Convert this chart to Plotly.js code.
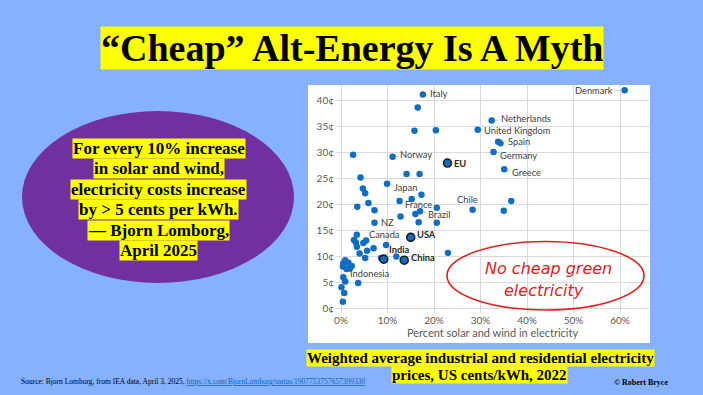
<!DOCTYPE html>
<html><head><meta charset="utf-8">
<script src="https://cdn.plot.ly/plotly-3.0.1.min.js"></script>
<style>html,body{margin:0;padding:0;background:#85B1FF;overflow:hidden;}</style>
</head><body><div id="chart" style="width:703px;height:395px;"></div>
<script>
// ---- data ----
const solarWindShare = [17.6,16.5,15.8,20.4,29.4,32.4,61.0,33.8,34.3,32.8,35.1,36.6,35.0,
  2.6,11.1,22.9,14.1,16.9,4.2,9.9,4.7,5.2,17.3,15.2,12.6,5.9,3.5,7.2,20.6,28.3,16.0,17.0,12.8,7.2,16.7,20.6,
  15.0,3.4,2.8,3.2,4.8,5.4,3.4,7.0,5.6,4.0,9.7,5.2,8.6,9.2,11.9,13.6,23.0,
  0.9,0.5,1.6,2.3,0.4,1.2,1.9,0.5,0.9,0.1,3.7,0.7,0.4];
const priceCents = [41.2,38.7,34.2,34.3,34.4,36.2,42.0,32.1,31.8,30.1,26.8,20.7,18.8,
  29.6,29.2,28.0,25.9,25.9,25.2,24.0,23.1,22.2,21.9,21.1,20.7,20.3,19.6,18.9,19.4,19.0,18.2,18.7,17.7,16.5,16.6,16.5,
  13.7,14.2,13.2,12.7,12.6,13.1,11.9,11.6,11.1,10.6,12.2,9.7,9.7,9.5,10.0,9.3,10.7,
  9.3,8.7,8.8,8.2,8.1,7.6,7.7,6.0,5.2,4.1,4.9,3.0,1.3];
const countryName = ['Italy','','','','United Kingdom','Netherlands','Denmark','Spain','','Germany','Greece','','',
  '','Norway','EU','','','','Japan','','','','','France','','','','','Chile','','Brazil','','NZ','','',
  'USA','','','','','Canada','','','','','','','','India','','China','',
  '','','','','','Indonesia','','','','','','',''];
const highlightedNames = ['EU','USA','India','China'];
const xTickValues = [0,10,20,30,40,50,60];
const yTickValues = [0,5,10,15,20,25,30,35,40];

// ---- label placement (pixel offsets from the point to the label centre) ----
const labelOffset = {
  'Italy':[16,-1],'Norway':[23,-2],'Japan':[18,4],'France':[19,4],'Brazil':[19,3],'NZ':[13,0],
  'Chile':[-5,-10],'EU':[13,0],'USA':[16,-3],'Canada':[18,-6],'India':[16,-10],'China':[19,-3],
  'Indonesia':[23,4],'Denmark':[-31,0],'Netherlands':[34,-2],'United Kingdom':[40,1],
  'Spain':[21,0],'Germany':[25,3],'Greece':[22,3]
};

// ---- pixel helpers for slide elements (paper = white chart panel 308..650 x 85..343) ----
const PL=308, PR=650, PT=85, PB=343;
const px = v => (v-PL)/(PR-PL);
const py = v => (PB-v)/(PB-PT);

const isHi = i => highlightedNames.indexOf(countryName[i]) >= 0;
const idxN = solarWindShare.map((_,i)=>i).filter(i=>!isHi(i));
const idxH = solarWindShare.map((_,i)=>i).filter(i=>isHi(i));

const dotColor = '#0F6DC4';
const traces = [
  {type:'scatter', mode:'markers', x:idxN.map(i=>solarWindShare[i]), y:idxN.map(i=>priceCents[i]),
   marker:{color:dotColor, size:6.5, line:{width:0}}, hoverinfo:'x+y', cliponaxis:false},
  {type:'scatter', mode:'markers', x:idxH.map(i=>solarWindShare[i]), y:idxH.map(i=>priceCents[i]),
   marker:{color:dotColor, size:8, line:{width:1.6, color:'#1A1A1A'}}, hoverinfo:'x+y', cliponaxis:false}
];

const annotations = [];
countryName.forEach((n,i)=>{
  if(!n) return;
  const off = labelOffset[n] || [15,0];
  annotations.push({x:solarWindShare[i], y:priceCents[i], xref:'x', yref:'y',
    text: isHi(i) ? '<b>'+n+'</b>' : n, showarrow:true, arrowhead:0, arrowwidth:0.6,
    arrowcolor:'#A6A6A6', standoff:3.5, ax:off[0], ay:off[1],
    font:{family:'Lato', size:9.3, color: isHi(i)?'#262626':'#404040'}});
});

const serif = 'Liberation Serif, Times New Roman, serif';
// title
annotations.push({xref:'paper', yref:'paper', x:px(351.5), y:py(48), xanchor:'center', yanchor:'middle',
  text:'<b>“Cheap” Alt-Energy Is A Myth</b>', showarrow:false, bgcolor:'#FFFF00', borderpad:0,
  font:{family:serif, size:38, color:'#000000'}});
// quote in purple ellipse
const quoteLines = ['For every 10% increase','in solar and wind,','electricity costs increase',
  'by > 5 cents per kWh.','— Bjorn Lomborg,','April 2025'];
const quoteY = [148,168.5,189,209.5,230,250.5];
quoteLines.forEach((t,k)=>annotations.push({xref:'paper', yref:'paper', x:px(158.5), y:py(quoteY[k]),
  xanchor:'center', yanchor:'middle', text:'<b>'+t+'</b>', showarrow:false, bgcolor:'#FFFF00', borderpad:0,
  font:{family:serif, size:17, color:'#000000'}}));
// red callout text
annotations.push({xref:'paper', yref:'paper', x:px(548), y:py(268.5), xanchor:'center', yanchor:'middle',
  text:'<i>No cheap green</i>', showarrow:false, font:{family:'DejaVu Sans', size:16, color:'#D91E1E'}});
annotations.push({xref:'paper', yref:'paper', x:px(543.5), y:py(290), xanchor:'center', yanchor:'middle',
  text:'<i>electricity</i>', showarrow:false, font:{family:'DejaVu Sans', size:16, color:'#D91E1E'}});
// caption
annotations.push({xref:'paper', yref:'paper', x:px(480.5), y:py(357.5), xanchor:'center', yanchor:'middle',
  text:'<b>Weighted average industrial and residential electricity</b>', showarrow:false, bgcolor:'#FFFF00', borderpad:0,
  font:{family:serif, size:15, color:'#000000'}});
annotations.push({xref:'paper', yref:'paper', x:px(479.5), y:py(374.5), xanchor:'center', yanchor:'middle',
  text:'<b>prices, US cents/kWh, 2022</b>', showarrow:false, bgcolor:'#FFFF00', borderpad:0,
  font:{family:serif, size:15, color:'#000000'}});
// source & credit
annotations.push({xref:'paper', yref:'paper', x:px(19), y:py(381.7), xanchor:'left', yanchor:'middle',
  text:'Source: Bjorn Lomborg, from IEA data, April 3, 2025, <span style="color:#0563C1"><u>https://x.com/BjornLomborg/status/1907753757657399330</u></span>',
  showarrow:false, font:{family:serif, size:7.5, color:'#000000'}});
annotations.push({xref:'paper', yref:'paper', x:px(640.5), y:py(382.7), xanchor:'center', yanchor:'middle',
  text:'<b>© Robert Bryce</b>', showarrow:false, font:{family:serif, size:8, color:'#000000'}});

const shapes = [
  {type:'rect', xref:'paper', yref:'paper', x0:0, x1:1, y0:0, y1:1, fillcolor:'#FFFFFF', line:{width:0}, layer:'below'},
  {type:'circle', xref:'paper', yref:'paper', x0:px(22), x1:px(294), y0:py(283), y1:py(111),
   fillcolor:'#7030A0', line:{width:0}, layer:'below'},
  {type:'circle', xref:'paper', yref:'paper', x0:px(447), x1:px(644), y0:py(310), y1:py(241.5),
   fillcolor:'rgba(0,0,0,0)', line:{width:1.6, color:'#E0201C'}, layer:'above'}
];

const layout = {
  width:703, height:395,
  margin:{l:PL, r:703-PR, t:PT, b:395-PB, pad:0},
  paper_bgcolor:'#85B1FF', plot_bgcolor:'#FFFFFF',
  showlegend:false,
  font:{family:'Lato, sans-serif', color:'#595959'},
  xaxis:{domain:[px(335),1], range:[-1.29,66.45], tickvals:xTickValues, ticktext:xTickValues.map(v=>v+'%'),
    showgrid:true, gridcolor:'#D9D9D9', gridwidth:1, zeroline:false, showline:false, ticks:'',
    tickfont:{family:'Lato', size:10, color:'#595959'}, automargin:false,
    title:{text:'Percent solar and wind in electricity', standoff:3, font:{family:'Lato', size:11, color:'#595959'}}},
  yaxis:{domain:[py(313),1], range:[-0.866,43.02], tickvals:yTickValues, ticktext:yTickValues.map(v=>v+'¢'),
    showgrid:true, gridcolor:'#D9D9D9', gridwidth:1, zeroline:false, showline:false, ticks:'',
    tickfont:{family:'Lato', size:10, color:'#595959'}, automargin:false},
  annotations:annotations, shapes:shapes
};

Plotly.newPlot('chart', traces, layout, {displayModeBar:false, staticPlot:true});
</script></body></html>
